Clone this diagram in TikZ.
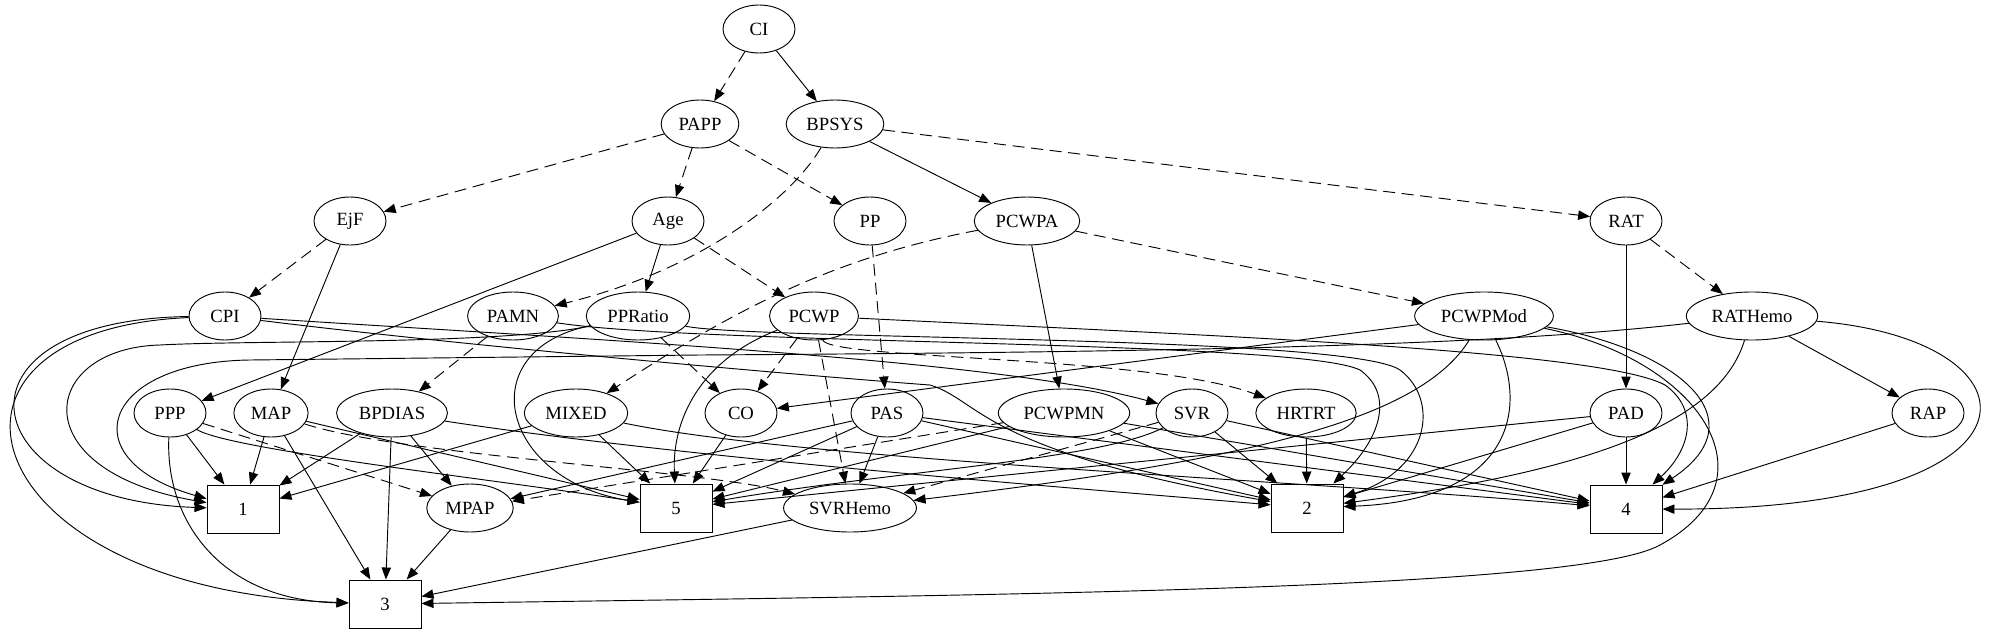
\documentclass[tikz,border=0pt]{standalone}
\usepackage{fontspec}
\setmainfont{Liberation Serif}
\usepackage{tikz}
\usetikzlibrary{shapes}
\usetikzlibrary{arrows.meta}

\begin{document}
\begin{tikzpicture}[x=0.75pt,y=0.75pt,yscale=-1,xscale=1,
  var/.style={draw,ellipse,line width=0.7pt,minimum width=54pt,minimum height=36pt,inner xsep=4.5pt,inner ysep=2pt,font=\fontsize{14}{16}\selectfont},
  outc/.style={draw,rectangle,line width=0.7pt,minimum width=54pt,minimum height=36pt,font=\fontsize{14}{16}\selectfont},
  link/.style={line width=0.7pt,-{Triangle[length=9pt,width=7pt]}},
  dlink/.style={link,dash pattern=on 9pt off 5pt}]
\useasboundingbox (0,0) rectangle (1995,635);

%Shape: Ellipse rows
\node[var] (CI) at (759,29) {CI};
\node[var] (PAPP) at (700,124) {PAPP};
\node[var] (BPSYS) at (835,124) {BPSYS};
\node[var] (EjF) at (350,221) {EjF};
\node[var] (Age) at (668,221) {Age};
\node[var] (PP) at (870,221) {PP};
\node[var] (PCWPA) at (1027,221) {PCWPA};
\node[var] (RAT) at (1626,221) {RAT};
\node[var] (CPI) at (225,316) {CPI};
\node[var] (PAMN) at (513,316) {PAMN};
\node[var] (PPRatio) at (638,316) {PPRatio};
\node[var] (PCWP) at (814,316) {PCWP};
\node[var] (PCWPMod) at (1484,316) {PCWPMod};
\node[var] (RATHemo) at (1752,316) {RATHemo};
\node[var] (PPP) at (170,413) {PPP};
\node[var] (MAP) at (271,413) {MAP};
\node[var] (BPDIAS) at (392,413) {BPDIAS};
\node[var] (MIXED) at (576,413) {MIXED};
\node[var] (CO) at (741,413) {CO};
\node[var] (PAS) at (887,413) {PAS};
\node[var] (PCWPMN) at (1064,413) {PCWPMN};
\node[var] (SVR) at (1192,413) {SVR};
\node[var] (HRTRT) at (1306,413) {HRTRT};
\node[var] (PAD) at (1626,413) {PAD};
\node[var] (RAP) at (1928,413) {RAP};
\node[var] (MPAP) at (470,508) {MPAP};
\node[var] (SVRHemo) at (850,508) {SVRHemo};

%Shape: Rectangle outcomes
\node[outc] (o1) at (243,509) {1};
\node[outc] (o5) at (676,508) {5};
\node[outc] (o2) at (1307,508) {2};
\node[outc] (o4) at (1626,509) {4};
\node[outc] (o3) at (385,604) {3};

% dashed edges
\draw[dlink] (CI) -- (PAPP);
\draw[dlink] (PAPP) -- (EjF);
\draw[dlink] (PAPP) -- (Age);
\draw[dlink] (PAPP) -- (PP);
\draw[dlink] (BPSYS) .. controls (790,200) and (700,270) .. (PAMN);
\draw[dlink] (BPSYS) -- (RAT);
\draw[dlink] (EjF) -- (CPI);
\draw[dlink] (Age) -- (PCWP);
\draw[dlink] (PP) -- (PAS);
\draw[dlink] (PCWPA) .. controls (820,260) and (720,320) .. (MIXED);
\draw[dlink] (PCWPA) -- (PCWPMod);
\draw[dlink] (RAT) -- (RATHemo);
\draw[dlink] (PAMN) -- (BPDIAS);
\draw[dlink] (PPRatio) -- (CO);
\draw[dlink] (PCWP) -- (CO);
\draw[dlink] (PCWP) -- (SVRHemo);
\draw[dlink] (PCWP) .. controls (830,360) and (1150,355) .. (HRTRT);
\draw[dlink] (PPP) -- (MPAP);
\draw[dlink] (MAP) .. controls (400,455) and (700,470) .. (SVRHemo);
\draw[dlink] (PCWPMN) -- (MPAP);
\draw[dlink] (SVR) -- (SVRHemo);

% solid edges, upper part
\draw[link] (CI) -- (BPSYS);
\draw[link] (BPSYS) -- (PCWPA);
\draw[link] (EjF) -- (MAP);
\draw[link] (Age) -- (PPRatio);
\draw[link] (Age) -- (PPP);
\draw[link] (PCWPA) -- (PCWPMN);
\draw[link] (RAT) -- (PAD);
\draw[link] (RATHemo) -- (RAP);
\draw[link] (PCWPMod) -- (CO);
\draw[link] (CPI) .. controls (600,340) and (1000,360) .. (SVR);

% into 1
\draw[link] (CPI) .. controls (-60,320) and (-30,500) .. (o1);
\draw[link] (PPRatio) .. controls (500,345) and (250,340) .. (160,345) .. controls (40,348) and (20,470) .. (o1);
\draw[link] (RATHemo) .. controls (1500,345) and (1200,352) .. (700,355) -- (250,360) .. controls (100,362) and (70,460) .. (o1);
\draw[link] (PPP) -- (o1);
\draw[link] (MAP) -- (o1);
\draw[link] (BPDIAS) -- (o1);
\draw[link] (MIXED) -- (o1);

% into 3
\draw[link] (CPI) .. controls (-100,330) and (-30,590) .. (o3);
\draw[link] (PPP) .. controls (165,520) and (220,600) .. (o3);
\draw[link] (MAP) -- (o3);
\draw[link] (BPDIAS) -- (o3);
\draw[link] (MPAP) -- (o3);
\draw[link] (SVRHemo) -- (o3);
\draw[link] (PCWPMod) .. controls (1700,360) and (1780,480) .. (1660,545) .. controls (1580,590) and (1000,595) .. (o3);

% into MPAP and SVRHemo
\draw[link] (BPDIAS) -- (MPAP);
\draw[link] (PAS) -- (MPAP);
\draw[link] (PAS) -- (SVRHemo);
\draw[link] (PCWPMod) .. controls (1420,420) and (1250,460) .. (SVRHemo);

% into 5
\draw[link] (PCWP) .. controls (700,360) and (672,420) .. (o5);
\draw[link] (PPRatio) .. controls (470,350) and (500,480) .. (o5);
\draw[link] (CO) -- (o5);
\draw[link] (MIXED) -- (o5);
\draw[link] (PPP) .. controls (230,450) and (500,480) .. (o5);
\draw[link] (MAP) -- (o5);
\draw[link] (PAS) -- (o5);
\draw[link] (PCWPMN) -- (o5);
\draw[link] (SVR) .. controls (1100,460) and (900,470) .. (o5);
\draw[link] (PAD) -- (o5);

% into 2
\draw[link] (CPI) .. controls (500,350) and (860,380) .. (930,385) .. controls (980,400) and (980,450) .. (o2);
\draw[link] (PAMN) .. controls (700,345) and (1300,340) .. (1360,370) .. controls (1395,395) and (1380,440) .. (o2);
\draw[link] (PPRatio) .. controls (750,340) and (1350,335) .. (1400,370) .. controls (1440,400) and (1430,470) .. (o2);
\draw[link] (BPDIAS) .. controls (700,460) and (1100,490) .. (o2);
\draw[link] (PAS) -- (o2);
\draw[link] (PCWPMN) -- (o2);
\draw[link] (SVR) -- (o2);
\draw[link] (HRTRT) -- (o2);
\draw[link] (PAD) -- (o2);
\draw[link] (RATHemo) .. controls (1720,420) and (1600,470) .. (o2);
\draw[link] (PCWPMod) .. controls (1530,410) and (1510,500) .. (o2);

% into 4
\draw[link] (PCWP) .. controls (1200,335) and (1600,350) .. (1665,385) .. controls (1700,410) and (1690,450) .. (o4);
\draw[link] (MIXED) .. controls (800,460) and (1300,480) .. (o4);
\draw[link] (PAS) -- (o4);
\draw[link] (PCWPMN) -- (o4);
\draw[link] (SVR) -- (o4);
\draw[link] (PAD) -- (o4);
\draw[link] (RAP) -- (o4);
\draw[link] (PCWPMod) .. controls (1680,350) and (1760,420) .. (o4);
\draw[link] (RATHemo) .. controls (2050,340) and (2060,510) .. (o4);

\end{tikzpicture}
\end{document}
